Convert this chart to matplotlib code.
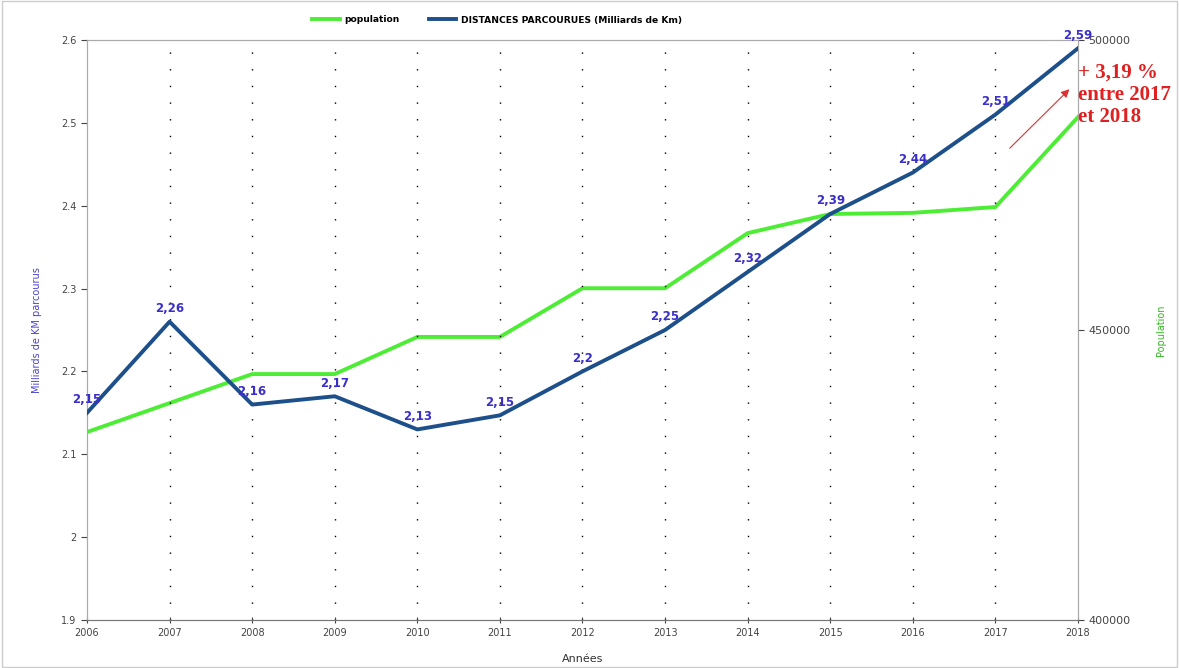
import matplotlib.pyplot as plt
import numpy as np

years = [2006, 2007, 2008, 2009, 2010, 2011, 2012, 2013, 2014, 2015, 2016, 2017, 2018]
distances = [2.15, 2.26, 2.16, 2.17, 2.13, 2.147, 2.2, 2.25, 2.32, 2.39, 2.44, 2.51, 2.59]
dist_labels = ['2,15', '2,26', '2,16', '2,17', '2,13', '2,15', '2,2', '2,25', '2,32', '2,39', '2,44', '2,51', '2,59']
population = [432400, 437400, 442400, 442400, 448800, 448800, 457200, 457200, 466700, 470000, 470200, 471200, 486700]

green = '#4ded35'
blue = '#1d4f8a'
label_col = '#3a2fc8'

fig = plt.figure(figsize=(11.79, 6.68), dpi=100)
ax = fig.add_axes([0.0738, 0.0719, 0.8405, 0.8682])
ax2 = ax.twinx()

# population on the right axis
lp, = ax2.plot(years, population, color=green, lw=2.8)
ax2.set_ylim(400000, 500000)
ax2.set_yticks([400000, 450000, 500000])
ax2.set_ylabel('Population', color='#33bb22', fontsize=7, labelpad=18)

# distances on the left axis
ld, = ax.plot(years, distances, color=blue, lw=2.8, zorder=5)
ax.set_zorder(ax2.get_zorder() + 1)
ax.patch.set_visible(False)
ax.set_ylim(1.9, 2.6)
ax.set_yticks(np.arange(1.9, 2.61, 0.1))
ax.set_yticklabels(['1.9', '2', '2.1', '2.2', '2.3', '2.4', '2.5', '2.6'])
ax.set_xlim(2006, 2018)
ax.set_xticks(years)
ax.set_ylabel('Milliards de KM parcourus', color='#4a44cc', fontsize=7, labelpad=14)
ax.set_xlabel('Années', fontsize=8, color='#333333', labelpad=12)

for x, y, t in zip(years, distances, dist_labels):
    ax.text(x, y + 0.008, t, ha='center', va='bottom', fontsize=8.5,
            fontweight='bold', color=label_col, zorder=6)

# dotted vertical grid
for x in years[1:-1]:
    ax.axvline(x, color='black', lw=1, ls=(0, (1, 11)), zorder=1)

for a in (ax, ax2):
    for s in a.spines.values():
        s.set_color('#aaaaaa')
    a.tick_params(labelsize=7, colors='#444444', length=4)
ax2.tick_params(labelsize=8)
ax.spines['bottom'].set_color('#777777')
ax.tick_params(axis='x', direction='inout')

ax.annotate('', xy=(2017.92, 2.543), xytext=(2017.15, 2.467),
            arrowprops=dict(arrowstyle='-|>', color='#e03030', lw=0.8,
                            mutation_scale=12), zorder=7)
ax.text(2018.0, 2.573, '+ 3,19 %\nentre 2017\net 2018', ha='left', va='top',
        fontsize=15, fontweight='bold', family='Liberation Serif',
        color='#e02020', linespacing=1.15, zorder=7, clip_on=False)

fig.legend([lp, ld], ['population', 'DISTANCES PARCOURUES (Milliards de Km)'],
           loc='center left', bbox_to_anchor=(312 / 1179, 1 - 20 / 668), ncol=2,
           frameon=False, prop={'size': 6.6, 'weight': 'bold'}, handlelength=3,
           handletextpad=0.5, columnspacing=3.2, borderaxespad=0, borderpad=0)

fig.add_artist(plt.Rectangle((0.002, 0.002), 0.996, 0.996, transform=fig.transFigure,
                             fill=False, edgecolor='#cccccc', lw=1))

fig.savefig('out.png', dpi=100)
